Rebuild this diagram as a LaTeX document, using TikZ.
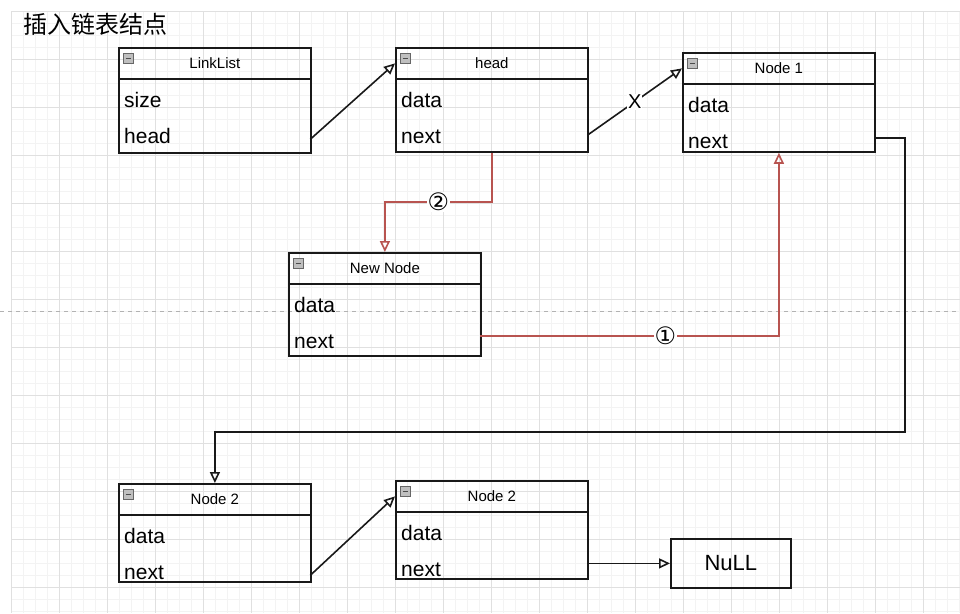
\documentclass[tikz,border=0pt]{standalone}
\usepackage{fontspec}
\setmainfont{Liberation Sans}
\newfontfamily\cjkfont{Noto Sans CJK SC}
\newfontfamily\symfont{DejaVu Sans}
\usetikzlibrary{arrows.meta}
\definecolor{linkred}{HTML}{B85450}
\definecolor{gridmin}{HTML}{F3F3F3}
\definecolor{gridmaj}{HTML}{E0E0E0}

\begin{document}
\begin{tikzpicture}
  [x=1pt,y=-1pt,
   box/.style={draw=black!90, line width=1.8pt, minimum width=192, anchor=north west, inner sep=0},
   hdr/.style={box, minimum height=31, font=\fontsize{15}{18}\selectfont},
   row/.style={anchor=north west, minimum height=36, text width=180, inner xsep=6, inner ysep=0,
     text height=14, text depth=5, font=\fontsize{21}{24}\selectfont},
   icon/.style={draw=gray!80!black, fill=gray!50, line width=0.8pt},
   link/.style={draw=black!90, line width=1.6pt, -{Triangle[open,length=11pt,width=10pt]}},
   redlink/.style={link, draw=linkred},
   tag/.style={fill=white, inner sep=1pt, font=\symfont\fontsize{24}{26}\selectfont}]
  \useasboundingbox (0,0) rectangle (960,613);
  \fill[white] (0,0) rectangle (960,613);
  \foreach \gx in {11,23,...,959}
    \draw[gridmin, line width=1pt] (\gx,11) -- (\gx,613);
  \foreach \gy in {11,23,...,611}
    \draw[gridmin, line width=1pt] (11,\gy) -- (960,\gy);
  \foreach \gx in {11,59,...,923}
    \draw[gridmaj, line width=1pt] (\gx,11) -- (\gx,613);
  \foreach \gy in {11,59,...,587}
    \draw[gridmaj, line width=1pt] (11,\gy) -- (960,\gy);
  \draw[gray!60, dash pattern=on 4pt off 4pt, line width=1pt] (0,311) -- (960,311);

  \node[anchor=west, font=\cjkfont\fontsize{24}{27}\selectfont] (title) at (20,24) {插入链表结点};

  \foreach \n/\x/\y/\h/\t/\a/\b in {ll/118/47/105/LinkList/size/head, hd/395/47/104/head/data/next,
      n1/682/52/99/Node 1/data/next, nn/288/252/103/New Node/data/next,
      na/118/483/98/Node 2/data/next, nb/395/480/98/Node 2/data/next}
  {
    \node[box, minimum height=\h] (\n) at (\x,\y) {};
    \node[hdr] (\n-h) at (\x,\y) {\t};
    \node[row] (\n-r1) at (\x,\y+38) {\a};
    \node[row] (\n-r2) at (\x,\y+74) {\b};
    \draw[icon] (\x+5,\y+6) rectangle ++(10,10);
    \draw[black!70, line width=1pt] (\x+7.5,\y+11) -- ++(5,0);
  }
  \node[box, minimum width=120, minimum height=49, font=\fontsize{22}{26}\selectfont] (nul) at (670,538) {NuLL};

  \foreach \from/\to in {ll-r2.east/hd-h.west, na-r2.east/nb-h.west}
    \draw[link] (\from) -- (\to);
  \draw[link] ([yshift=4pt]hd-r2.east) -- node[tag, font=\fontsize{20}{22}\selectfont] {X} (n1-h.west);
  \coordinate (turn) at (905,432);
  \draw[link] ([yshift=6pt]n1-r2.east) -| (turn) -| (na-h.north);
  \draw[link] (nb-r2.east |- nul.west) -- (nul.west);
  \draw[redlink] (hd.south) -- ++(0,49) -| node[tag, pos=0.25] {②} (nn-h.north);
  \draw[redlink] ([yshift=8pt]nn-r2.east) -| node[tag, pos=0.31] {①} (n1.south);
\end{tikzpicture}
\end{document}
